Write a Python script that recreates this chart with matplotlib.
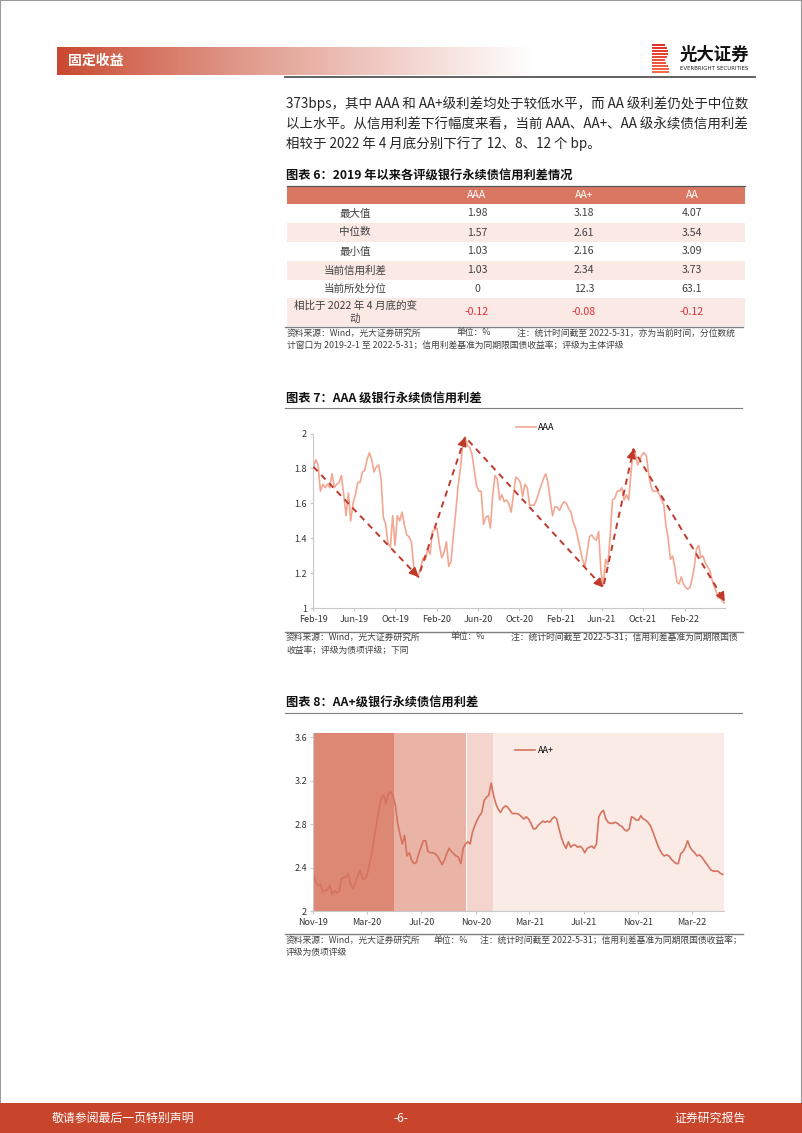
import matplotlib
matplotlib.use('Agg')
import matplotlib.pyplot as plt
import matplotlib.dates as mdates
import numpy as np
import pandas as pd
from matplotlib.patches import Rectangle
from matplotlib.lines import Line2D
from matplotlib.colors import to_rgb

plt.rcParams['font.family'] = ['Noto Sans CJK SC', 'DejaVu Sans']

# ---------------- data ----------------
body_lines = [
    '373bps，其中 AAA 和 AA+级利差均处于较低水平，而 AA 级利差仍处于中位数',
    '以上水平。从信用利差下行幅度来看，当前 AAA、AA+、AA 级永续债信用利差',
    '相较于 2022 年 4 月底分别下行了 12、8、12 个 bp。',
]

table_title = '图表 6：2019 年以来各评级银行永续债信用利差情况'
table_columns = ['AAA', 'AA+', 'AA']
table_rows = ['最大值', '中位数', '最小值', '当前信用利差', '当前所处分位',
              '相比于 2022 年 4 月底的变\n动']
table_aaa = ['1.98', '1.57', '1.03', '1.03', '0', '-0.12']
table_aaplus = ['3.18', '2.61', '2.16', '2.34', '12.3', '-0.08']
table_aa = ['4.07', '3.54', '3.09', '3.73', '63.1', '-0.12']
table_source = ['资料来源：Wind，光大证券研究所', '单位：%',
                '注：统计时间截至 2022-5-31，亦为当前时间，分位数统',
                '计窗口为 2019-2-1 至 2022-5-31；信用利差基准为同期限国债收益率；评级为主体评级']

# chart 7: AAA (weekly spreads between turning points)
chart7_title = '图表 7：AAA 级银行永续债信用利差'
aaa_anchor_dates = ['2019-02-01', '2019-12-08', '2020-04-24', '2021-06-06', '2021-09-03', '2022-05-31']
aaa_trend_values = [1.81, 1.18, 1.98, 1.12, 1.91, 1.04]
aaa_seg1 = [1.81, 1.85, 1.82, 1.67, 1.71, 1.69, 1.71, 1.69, 1.77, 1.69, 1.71, 1.72, 1.76, 1.65, 1.53,
            1.66, 1.50, 1.60, 1.65, 1.72, 1.72, 1.78, 1.79, 1.85, 1.89, 1.85, 1.78, 1.81, 1.82, 1.74,
            1.52, 1.48, 1.37, 1.35, 1.53, 1.36, 1.53, 1.50, 1.55, 1.48, 1.42, 1.41, 1.38, 1.24, 1.21, 1.19]
aaa_seg2 = [1.23, 1.29, 1.28, 1.34, 1.31, 1.44, 1.45, 1.46, 1.36, 1.29, 1.32, 1.38, 1.24, 1.27, 1.42,
            1.55, 1.70, 1.80, 1.94, 1.98]
aaa_seg3 = [1.93, 1.92, 1.88, 1.79, 1.70, 1.67, 1.67, 1.48, 1.52, 1.53, 1.46, 1.65, 1.76, 1.74, 1.62,
            1.65, 1.61, 1.62, 1.60, 1.55, 1.65, 1.75, 1.74, 1.72, 1.64, 1.71, 1.69, 1.59, 1.59, 1.59,
            1.62, 1.66, 1.70, 1.74, 1.77, 1.72, 1.62, 1.53, 1.58, 1.58, 1.56, 1.59, 1.61, 1.60, 1.57,
            1.55, 1.49, 1.46, 1.40, 1.34, 1.28, 1.24, 1.32, 1.41, 1.42, 1.40, 1.39, 1.44, 1.21, 1.13]
aaa_seg4 = [1.28, 1.25, 1.42, 1.62, 1.63, 1.67, 1.67, 1.69, 1.62, 1.65, 1.62, 1.78, 1.91]
aaa_seg5 = [1.88, 1.82, 1.85, 1.88, 1.89, 1.87, 1.77, 1.70, 1.67, 1.67, 1.67, 1.65, 1.62, 1.59, 1.47,
            1.40, 1.28, 1.30, 1.24, 1.15, 1.14, 1.18, 1.14, 1.12, 1.11, 1.12, 1.17, 1.24, 1.34, 1.36,
            1.29, 1.30, 1.26, 1.24, 1.22, 1.17, 1.13, 1.10, 1.06, 1.06, 1.04, 1.03]
aaa_yticks = [1, 1.2, 1.4, 1.6, 1.8, 2]
chart7_source = ['资料来源：Wind，光大证券研究所', '单位：%',
                 '注：统计时间截至 2022-5-31；信用利差基准为同期限国债', '收益率；评级为债项评级；下同']

# chart 8: AA+
chart8_title = '图表 8：AA+级银行永续债信用利差'
aaplus_start, aaplus_end = '2019-11-01', '2022-05-10'
aaplus_values = [2.35, 2.27, 2.24, 2.25, 2.18, 2.19, 2.20, 2.24, 2.16, 2.19, 2.17, 2.18, 2.30, 2.31, 2.32,
                 2.34, 2.24, 2.21, 2.27, 2.33, 2.38, 2.30, 2.30, 2.34, 2.44, 2.53, 2.68, 2.81, 2.94, 3.04,
                 3.07, 2.99, 3.08, 3.10, 3.07, 2.98, 2.81, 2.71, 2.62, 2.70, 2.51, 2.54, 2.47, 2.44, 2.45,
                 2.53, 2.59, 2.65, 2.65, 2.55, 2.54, 2.54, 2.53, 2.51, 2.47, 2.43, 2.47, 2.53, 2.58, 2.55,
                 2.53, 2.51, 2.50, 2.44, 2.58, 2.62, 2.64, 2.62, 2.73, 2.79, 2.84, 2.88, 2.91, 3.02, 3.05,
                 3.07, 3.18, 3.07, 2.99, 2.94, 2.91, 2.95, 2.97, 2.96, 2.93, 2.90, 2.90, 2.90, 2.89, 2.87,
                 2.85, 2.87, 2.85, 2.81, 2.76, 2.76, 2.79, 2.81, 2.83, 2.82, 2.83, 2.82, 2.85, 2.87, 2.85,
                 2.76, 2.68, 2.62, 2.58, 2.64, 2.59, 2.61, 2.61, 2.59, 2.60, 2.58, 2.54, 2.58, 2.59, 2.60,
                 2.58, 2.62, 2.87, 2.91, 2.93, 2.85, 2.82, 2.81, 2.81, 2.82, 2.81, 2.79, 2.78, 2.75, 2.74,
                 2.76, 2.87, 2.86, 2.84, 2.84, 2.88, 2.85, 2.84, 2.82, 2.79, 2.74, 2.68, 2.62, 2.57, 2.53,
                 2.51, 2.52, 2.51, 2.48, 2.46, 2.44, 2.44, 2.53, 2.55, 2.59, 2.65, 2.59, 2.56, 2.54, 2.51,
                 2.52, 2.50, 2.47, 2.44, 2.41, 2.38, 2.37, 2.37, 2.37, 2.35, 2.34]
aaplus_yticks = [2, 2.4, 2.8, 3.2, 3.6]
shade_starts = ['2019-11-01', '2020-04-30', '2020-10-12', '2020-12-08']
shade_ends = ['2020-04-30', '2020-10-10', '2020-12-08', '2022-05-13']
shade_colors = ['#dc8874', '#e9b3a6', '#f3d5cd', '#faebe7']
chart8_source = ['资料来源：Wind，光大证券研究所', '单位：%',
                 '注：统计时间截至 2022-5-31；信用利差基准为同期限国债收益率；', '评级为债项评级']

footer_texts = ['敬请参阅最后一页特别声明', '-6-', '证券研究报告']

# ---------------- figure ----------------
W, H = 802, 1133
fig = plt.figure(figsize=(W / 100, H / 100), dpi=100)
fig.patch.set_facecolor('white')


def fx(x):
    return x / W


def fy(y):
    return 1 - y / H


def T(x, y, s, **kw):
    kw.setdefault('va', 'center')
    fig.text(fx(x), fy(y), s, **kw)


def hline(x0, x1, y, color='#7f7f7f', lw=0.8):
    fig.add_artist(Line2D([fx(x0), fx(x1)], [fy(y), fy(y)], transform=fig.transFigure,
                          color=color, lw=lw))


def rect(x0, y0, x1, y1, color):
    fig.add_artist(Rectangle((fx(x0), fy(y1)), fx(x1) - fx(x0), fy(y0) - fy(y1),
                             transform=fig.transFigure, facecolor=color, edgecolor='none'))


TXT = '#262626'
GRAY = '#404040'
SRC = 6.35

# page border
fig.add_artist(Rectangle((0, 0), 1, 1, transform=fig.transFigure, facecolor='none',
                         edgecolor='#9a9a9a', lw=1.5))

# header gradient band
axh = fig.add_axes([fx(57), fy(75), fx(535) - fx(57), 28 / H])
c0 = np.array(to_rgb('#c8462c'))
t = np.linspace(0, 1, 400) ** 0.85
grad = c0[None, :] * (1 - t[:, None]) + t[:, None]
axh.imshow(grad[None, :, :], aspect='auto', extent=[0, 1, 0, 1])
axh.axis('off')
T(68, 61, '固定收益', color='white', fontsize=10, fontweight='bold')
hline(285, 755, 76.5, color='#555555', lw=1.3)

# logo
stripe_w = [13, 15, 16, 16, 15, 13, 14, 16, 17, 17]
for i, w_ in enumerate(stripe_w):
    y0 = 44 + i * 2.95
    col = np.array(to_rgb('#e1302b')) * (1 - i / 10) + np.array(to_rgb('#f2704f')) * (i / 10)
    rect(652, y0, 652 + w_, y0 + 2.2, col)
T(680, 55, '光大证券', color='#111111', fontsize=12.5, fontweight='bold')
T(680, 68.5, 'EVERBRIGHT SECURITIES', color='#222222', fontsize=4.0, family='DejaVu Sans')

# body text
for i, line in enumerate(body_lines):
    T(286, 104 + i * 20, line, color=TXT, fontsize=9.7)

# ---------------- table ----------------
T(286, 176, table_title, color='#111111', fontsize=8.8, fontweight='bold')
hline(287, 745, 185.5, color='#595959', lw=0.9)
axt = fig.add_axes([fx(287), fy(326), fx(745) - fx(287), (326 - 186) / H])
axt.set_xlim(287, 745)
axt.set_ylim(326, 186)
axt.axis('off')
col_centers = [355, 477, 584, 692]
row_heights = [18, 19, 19, 19, 18.5, 18.5, 28]
edges = np.concatenate([[186], 186 + np.cumsum(row_heights)])
axt.add_patch(Rectangle((287, edges[0]), 458, row_heights[0], facecolor='#d97762', edgecolor='none'))
for j, name in enumerate(table_columns):
    axt.text(col_centers[j + 1], (edges[0] + edges[1]) / 2, name, ha='center', va='center',
             color='white', fontsize=7.6)
cols = [table_aaa, table_aaplus, table_aa]
for i, rname in enumerate(table_rows):
    top, bot = edges[i + 1], edges[i + 2]
    if i % 2 == 1:
        axt.add_patch(Rectangle((287, top), 458, bot - top, facecolor='#fbe9e5', edgecolor='none'))
    ymid = (top + bot) / 2
    axt.text(col_centers[0], ymid, rname, ha='center', va='center', color=GRAY, fontsize=7.6,
             linespacing=1.3)
    for j in range(3):
        v = cols[j][i]
        c = '#e0303a' if v.startswith('-') else GRAY
        axt.text(col_centers[j + 1], ymid, v, ha='center', va='center', color=c, fontsize=7.6)
hline(285, 743, 326.5, color='#7f7f7f', lw=1.0)
T(287, 333, table_source[0], color=GRAY, fontsize=SRC)
T(457, 333, table_source[1], color=GRAY, fontsize=SRC)
T(517, 333, table_source[2], color=GRAY, fontsize=SRC)
T(287, 345.5, table_source[3], color=GRAY, fontsize=SRC)


def style_axes(ax):
    for s in ['top', 'right']:
        ax.spines[s].set_visible(False)
    for s in ['left', 'bottom']:
        ax.spines[s].set_color('#c8c8c8')
        ax.spines[s].set_linewidth(0.8)
    ax.tick_params(axis='both', labelsize=6.5, labelcolor='#333333', color='#c8c8c8',
                   length=2.5, width=0.8, pad=2)
    ax.set_facecolor('none')


# ---------------- chart 7 ----------------
T(286, 399, chart7_title, color='#111111', fontsize=8.8, fontweight='bold')
hline(285, 742, 408, color='#7f7f7f', lw=0.8)
ax7 = fig.add_axes([fx(313.4), fy(608.4), (724.8 - 313.4) / W, (608.4 - 433.5) / H])
anchors = pd.to_datetime(aaa_anchor_dates)
segs = [aaa_seg1, aaa_seg2, aaa_seg3, aaa_seg4, aaa_seg5]
aaa_dates = [anchors[0] + (anchors[1] - anchors[0]) * k / (len(aaa_seg1) - 1) for k in range(len(aaa_seg1))]
for s in range(1, 5):
    n = len(segs[s])
    aaa_dates += [anchors[s] + (anchors[s + 1] - anchors[s]) * (k + 1) / n for k in range(n)]
aaa_values = sum(segs, [])
ax7.plot(aaa_dates, aaa_values, color='#f2a792', lw=1.2, label='AAA', zorder=2)
ax7.plot(anchors, aaa_trend_values, color='#c0392b', lw=1.4, ls=(0, (3.2, 2.6)), zorder=3)
xa = mdates.date2num(anchors)
for i in range(1, len(xa)):
    x0, y0 = xa[i - 1], aaa_trend_values[i - 1]
    x1, y1 = xa[i], aaa_trend_values[i]
    ax7.annotate('', xy=(x1, y1), xytext=(x0 + (x1 - x0) * 0.97, y0 + (y1 - y0) * 0.97),
                 arrowprops=dict(arrowstyle='-|>,head_length=0.55,head_width=0.28', color='#c0392b',
                                 lw=1.0, shrinkA=0, shrinkB=0, mutation_scale=10), zorder=4)
ax7.set_xlim(pd.Timestamp('2019-02-01'), pd.Timestamp('2022-05-31'))
ax7.set_ylim(1, 2)
ax7.set_yticks(aaa_yticks)
ax7.set_yticklabels([f'{v:g}' for v in aaa_yticks])
ax7.xaxis.set_major_locator(mdates.MonthLocator(bymonth=[2, 6, 10]))
ax7.xaxis.set_major_formatter(mdates.DateFormatter('%b-%y'))
style_axes(ax7)
ax7.legend(loc='center left', bbox_to_anchor=(0.492, 1.033), frameon=False, fontsize=6.5,
           handlelength=2.2, handletextpad=0.3, borderaxespad=0, borderpad=0)
hline(285, 743, 631.5, color='#7f7f7f', lw=1.0)
T(286, 637, chart7_source[0], color=GRAY, fontsize=SRC)
T(451, 637, chart7_source[1], color=GRAY, fontsize=SRC)
T(511, 637, chart7_source[2], color=GRAY, fontsize=SRC)
T(286, 650, chart7_source[3], color=GRAY, fontsize=SRC)

# ---------------- chart 8 ----------------
T(286, 703.5, chart8_title, color='#111111', fontsize=8.8, fontweight='bold')
hline(285, 742, 712.7, color='#7f7f7f', lw=0.8)
ax8 = fig.add_axes([fx(313.4), fy(911.4), (724.1 - 313.4) / W, (911.4 - 733.1) / H])
for s0, s1, c in zip(shade_starts, shade_ends, shade_colors):
    ax8.axvspan(pd.Timestamp(s0), pd.Timestamp(s1), color=c, lw=0, zorder=0)
aaplus_dates = pd.date_range(aaplus_start, aaplus_end, periods=len(aaplus_values))
ax8.plot(aaplus_dates, aaplus_values, color='#d5735f', lw=1.2, label='AA+', zorder=2)
ax8.set_xlim(pd.Timestamp('2019-11-01'), pd.Timestamp('2022-05-13'))
ax8.set_ylim(2, 3.64)
ax8.set_yticks(aaplus_yticks)
ax8.set_yticklabels([f'{v:g}' for v in aaplus_yticks])
ax8.xaxis.set_major_locator(mdates.MonthLocator(bymonth=[3, 7, 11]))
ax8.xaxis.set_major_formatter(mdates.DateFormatter('%b-%y'))
style_axes(ax8)
ax8.legend(loc='center left', bbox_to_anchor=(0.492, 0.902), frameon=False, fontsize=6.5,
           handlelength=2.2, handletextpad=0.3, borderaxespad=0, borderpad=0)
hline(285, 743, 934, color='#7f7f7f', lw=1.0)
T(286, 940, chart8_source[0], color=GRAY, fontsize=SRC)
T(434, 940, chart8_source[1], color=GRAY, fontsize=SRC)
T(480, 940, chart8_source[2], color=GRAY, fontsize=SRC)
T(286, 952.5, chart8_source[3], color=GRAY, fontsize=SRC)

# ---------------- footer ----------------
rect(0, 1103, 802, 1133, '#c8452b')
T(52, 1118, footer_texts[0], color='white', fontsize=8.6)
T(401, 1118, footer_texts[1], color='white', fontsize=8.6, ha='center')
T(746, 1118, footer_texts[2], color='white', fontsize=8.6, ha='right')

fig.savefig('out.png', dpi=100)
